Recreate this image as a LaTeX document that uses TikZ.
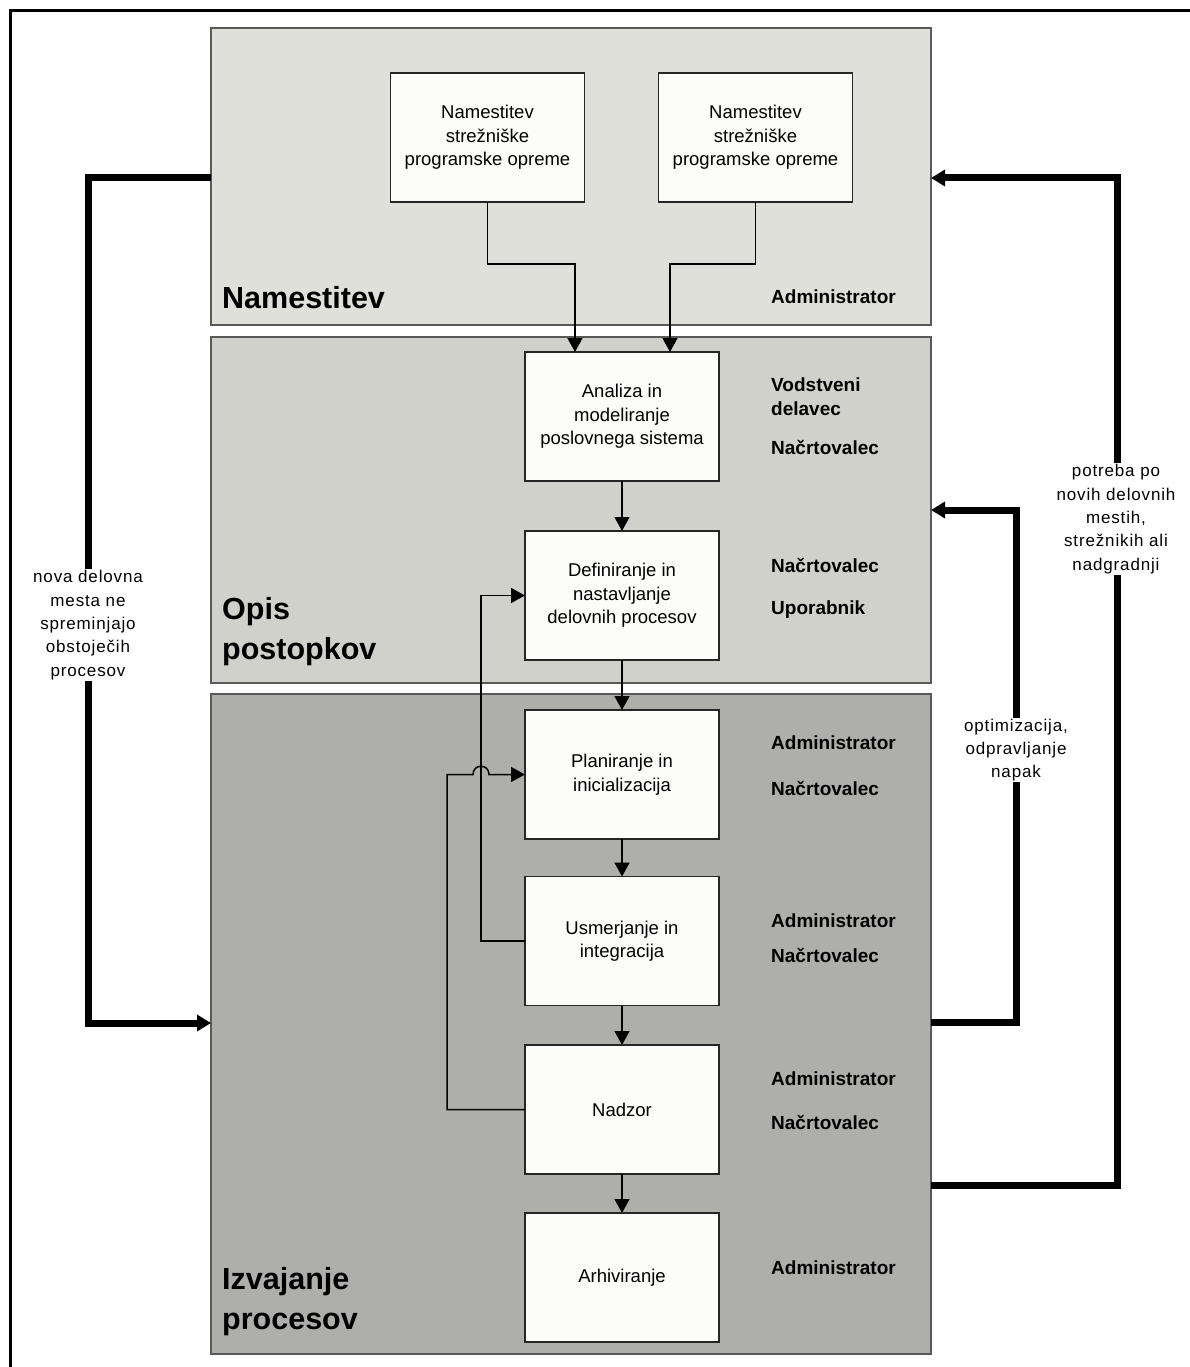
\documentclass[tikz,border=0pt]{standalone}
\usepackage{fontspec}
\setmainfont{Liberation Sans}
\usetikzlibrary{arrows.meta}

\definecolor{boxwhite}{HTML}{FCFCFB}
\definecolor{paneA}{HTML}{DFE0DA}
\definecolor{paneB}{HTML}{D1D1CB}
\definecolor{paneC}{HTML}{AEAEAA}

\begin{document}
\begin{tikzpicture}[x=1pt,y=-1pt,
  panel/.style={draw=black!65, line width=1.6pt, minimum width=720pt, inner sep=0pt, outer sep=0pt},
  stepbox/.style={draw=black!85, line width=1.6pt, fill=boxwhite, minimum width=194pt,
    minimum height=129pt, align=center, inner sep=0pt, outer sep=0pt,
    font=\fontsize{18.5}{23.5}\selectfont},
  role/.style={anchor=west, font=\fontsize{19}{24}\selectfont\bfseries, align=left, inner sep=0pt},
  title/.style={anchor=west, font=\fontsize{30.5}{40}\selectfont\bfseries, align=left, inner sep=0pt},
  flow/.style={line width=1.5pt, -{Triangle[length=14pt,width=15pt]}},
  loop/.style={line width=7pt, -{Triangle[length=14pt,width=16pt]}},
  note/.style={fill=white, align=center, inner sep=1pt,
    font=\fontsize{17}{23.3}\selectfont\addfontfeatures{LetterSpace=5}},
]
\useasboundingbox (0,0) rectangle (1189,1367);
\fill[white] (0,0) rectangle (1189,1367);

% outer frame
\draw[line width=3pt] (10,1380) -- (10,11) -- (1200,11);

% phase panels
\node[panel, fill=paneA, minimum height=297pt] (p1) at (571,176.5) {};
\node[panel, fill=paneB, minimum height=346pt] (p2) at (571,510) {};
\node[panel, fill=paneC, minimum height=660pt] (p3) at (571,1024) {};

% phase titles
\node[title] (t1) at (222,298) {Namestitev};
\node[title] (t2) at (222,632) {Opis\\postopkov};
\node[title] (t3) at (222,1302) {Izvajanje\\procesov};

% activity boxes
\node[stepbox] (top1) at (487.5,137.5) {Namestitev\\strežniške\\programske opreme};
\node[stepbox] (top2) at (755.5,137.5) {Namestitev\\strežniške\\programske opreme};
\node[stepbox] (ana) at (622,416.5) {Analiza in\\modeliranje\\poslovnega sistema};
\node[stepbox] (def) at (622,595.5) {Definiranje in\\nastavljanje\\delovnih procesov};
\node[stepbox] (plan) at (622,774.5) {Planiranje in\\inicializacija};
\node[stepbox] (usm) at (622,941) {Usmerjanje in\\integracija};
\node[stepbox] (nad) at (622,1109.5) {Nadzor};
\node[stepbox] (arh) at (622,1277.5) {Arhiviranje};

% roles
\node[role] (r1) at (771,297) {Administrator};
\node[role] (r2) at (771,397) {Vodstveni\\delavec};
\node[role] (r3) at (771,447) {Načrtovalec};
\node[role] (r4) at (771,565) {Načrtovalec};
\node[role] (r5) at (771,610) {Uporabnik};
\node[role] (r6) at (771,743) {Administrator};
\node[role] (r7) at (771,788) {Načrtovalec};
\node[role] (r8) at (771,921) {Administrator};
\node[role] (r9) at (771,955) {Načrtovalec};
\node[role] (r10) at (771,1079) {Administrator};
\node[role] (r11) at (771,1122) {Načrtovalec};
\node[role] (r12) at (771,1268) {Administrator};

% main flow
\draw[flow] (top1.south) -- (487.5,264) -- (575,264) -- (ana.north -| 575,264);
\draw[flow] (top2.south) -- (755.5,264) -- (670,264) -- (ana.north -| 670,264);
\draw[flow] (ana) -- (def);
\draw[flow] (def) -- (plan);
\draw[flow] (plan) -- (usm);
\draw[flow] (usm) -- (nad);
\draw[flow] (nad) -- (arh);

% feedback inside the execution phase
\draw[flow] (usm.west) -- (481,941) -- (481,595.5) -- (def.west);
\draw[flow] (nad.west) -- (447,1109.5) -- (447,774.5) -- (473,774.5)
  .. controls (473,763.5) and (489,763.5) .. (489,774.5) -- (plan.west);

% loops between phases
\draw[loop] (p1.west |- 0,178) -- (88,178) -- (88,1023) -- (p3.west |- 0,1023);
\draw[loop] (p3.east |- 0,1185) -- (1117,1185) -- (1117,178) -- (p1.east |- 0,178);
\draw[loop] (p3.east |- 0,1022) -- (1016,1022) -- (1016,510) -- (p2.east |- 0,510);

% loop labels
\node[note] (n1) at (88,625) {nova delovna\\mesta ne\\spreminjajo\\obstoječih\\procesov};
\node[note] (n2) at (1116,519) {potreba po\\novih delovnih\\mestih,\\strežnikih ali\\nadgradnji};
\node[note] (n3) at (1016,750) {optimizacija,\\odpravljanje\\napak};
\end{tikzpicture}
\end{document}
